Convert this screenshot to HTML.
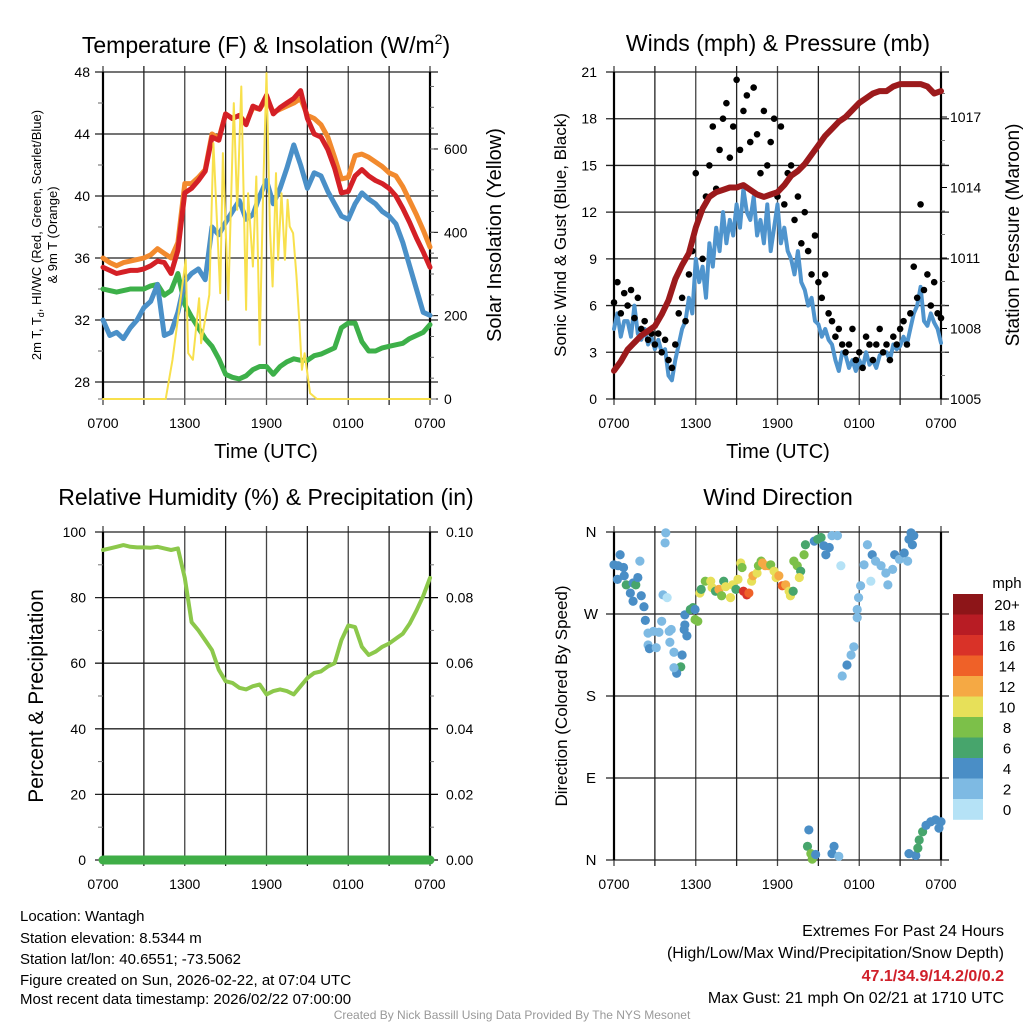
<!DOCTYPE html>
<html><head><meta charset="utf-8"><style>
html,body{margin:0;padding:0;background:#fff;}
svg{display:block;font-family:"Liberation Sans",Arial,sans-serif;}
</style></head><body>
<svg id="fig" width="1024" height="1024" viewBox="0 0 1024 1024" xmlns="http://www.w3.org/2000/svg">
<rect width="1024" height="1024" fill="#fff"/>
<text x="266" y="53" font-size="23" text-anchor="middle">Temperature (F) &amp; Insolation (W/m<tspan font-size="14" dy="-9">2</tspan><tspan dy="9">)</tspan></text>
<text x="778" y="51" font-size="23" text-anchor="middle">Winds (mph) &amp; Pressure (mb)</text>
<text x="266" y="505" font-size="23" text-anchor="middle">Relative Humidity (%) &amp; Precipitation (in)</text>
<text x="778" y="505" font-size="23" text-anchor="middle">Wind Direction</text>
<text transform="translate(41,235) rotate(-90)" font-size="13" text-anchor="middle">2m T, T<tspan font-size="9" dy="3">d</tspan><tspan dy="-3">, HI/WC (Red, Green, Scarlet/Blue)</tspan></text>
<text transform="translate(57,235) rotate(-90)" font-size="13" text-anchor="middle">&amp; 9m T (Orange)</text>
<text transform="translate(501,235) rotate(-90)" font-size="20" text-anchor="middle">Solar Insolation (Yellow)</text>
<text x="266" y="458" font-size="20" text-anchor="middle">Time (UTC)</text>
<text x="778" y="458" font-size="20" text-anchor="middle">Time (UTC)</text>
<text transform="translate(566,235) rotate(-90)" font-size="17" text-anchor="middle">Sonic Wind &amp; Gust (Blue, Black)</text>
<text transform="translate(1019,235) rotate(-90)" font-size="19" text-anchor="middle">Station Pressure (Maroon)</text>
<text transform="translate(43,696) rotate(-90)" font-size="21" text-anchor="middle">Percent &amp; Precipitation</text>
<text transform="translate(567,696) rotate(-90)" font-size="17" text-anchor="middle">Direction (Colored By Speed)</text>
<g font-size="15">
<text x="20" y="921">Location: Wantagh</text>
<text x="20" y="943">Station elevation: 8.5344 m</text>
<text x="20" y="964">Station lat/lon: 40.6551; -73.5062</text>
<text x="20" y="985">Figure created on Sun, 2026-02-22, at 07:04 UTC</text>
<text x="20" y="1004">Most recent data timestamp: 2026/02/22 07:00:00</text>
</g>
<g font-size="16" text-anchor="end">
<text x="1004" y="936">Extremes For Past 24 Hours</text>
<text x="1004" y="958">(High/Low/Max Wind/Precipitation/Snow Depth)</text>
<text x="1004" y="981" fill="#d0202a" font-weight="bold">47.1/34.9/14.2/0/0.2</text>
<text x="1004" y="1003">Max Gust: 21 mph On 02/21 at 1710 UTC</text>
</g>
<text x="512" y="1019" font-size="12" fill="#999" text-anchor="middle">Created By Nick Bassill Using Data Provided By The NYS Mesonet</text>
<g id="layer"></g>
</svg>
<script>
const timeTicks = ["0700","1300","1900","0100","0700"];
const tempRed = [35.4,35.2,35.0,35.1,35.2,35.2,35.3,35.5,35.8,35.7,35.0,36.5,40.2,40.5,41.0,41.6,43.8,43.6,45.3,45.0,45.2,44.6,45.8,45.6,46.5,45.3,45.7,46.0,46.3,46.8,45.0,44.0,43.8,43.0,41.8,40.2,40.3,41.3,41.7,41.3,41.0,40.8,40.5,40.0,39.2,38.3,37.3,36.4,35.4];
const tempOrange = [36.0,35.7,35.5,35.7,35.8,35.9,36.0,36.2,36.6,36.3,36.0,37.0,40.8,40.8,41.2,41.7,44.0,43.7,45.3,45.0,45.2,44.7,45.7,45.6,46.3,45.4,45.6,45.8,46.0,46.3,45.2,45.0,44.6,43.8,42.5,41.1,41.2,42.6,42.7,42.5,42.2,41.9,41.5,41.3,40.6,39.7,38.8,37.8,36.7];
const dewBlue = [32.0,31.0,31.2,30.8,31.5,32.0,32.8,33.2,34.3,31.0,31.2,32.5,34.5,35.0,35.3,34.6,38.0,37.5,38.3,39.0,39.7,38.5,38.8,40.0,41.0,39.5,40.5,41.8,43.3,42.0,40.5,41.5,41.3,40.3,39.5,38.7,38.5,39.5,40.2,39.8,39.5,39.0,38.7,38.2,37.0,35.5,34.0,32.5,32.3];
const hiwcGreen = [34.0,33.9,33.8,33.9,34.0,34.0,34.0,34.2,34.3,33.6,33.9,35.0,33.0,32.2,31.5,30.8,30.3,29.5,28.5,28.3,28.2,28.4,28.8,29.0,29.0,28.5,29.0,29.3,29.5,29.4,29.4,29.7,29.8,30.0,30.2,31.5,31.8,31.8,30.6,30.0,30.0,30.2,30.3,30.4,30.5,30.8,31.0,31.2,31.7];
const insolHours = [0,4.6,5.1,5.75,6.07,6.25,6.6,7.05,7.2,7.8,8.1,8.6,8.8,9.2,9.6,9.85,10.15,10.5,10.65,11.0,11.25,11.5,11.75,12.0,12.25,12.45,12.7,12.85,13.1,13.35,13.55,13.7,13.95,14.2,14.4,14.6,14.8,15.2,15.7,24];
const insolValues = [0,0,94,254,334,110,94,242,134,250,614,254,590,238,710,454,750,214,494,318,534,130,494,782,414,270,542,334,494,334,478,414,398,294,190,70,110,14,0,0];
const windSpeed = [4.5,5.5,4.0,5.0, 5.0,4.0,6.0,4.2, 3.8,4.5,3.5,4.0, 3.2,3.8,3.0,3.2, 1.5,1.2,2.5,3.5, 4.5,5.0,6.5,5.5, 9.0,7.5,8.5,6.5, 10.0,8.5,11.0,9.5, 12.0,10.0,11.5,10.5, 12.5,11.0,13.5,12.0, 11.5,13.0,10.5,11.5, 10.0,12.5,9.5,11.0, 12.5,10.0,11.0,9.5, 9.0,8.0,9.5,7.5, 7.0,6.0,6.5,5.0, 4.8,4.0,4.5,3.8, 3.5,2.5,1.8,3.0, 2.8,2.0,2.5,1.8, 2.5,2.0,3.0,2.2, 2.5,2.0,2.8,3.0, 3.0,2.5,3.5,3.2, 3.4,4.0,3.5,4.5, 5.5,6.0,7.2,5.0, 4.7,5.5,4.9,4.5, 3.6];
const windGust = [6.2,7.5,5.5,6.8, 6.0,7.0,5.2,6.5, 4.5,5.0,3.8,4.2, 3.5,4.2,3.0,3.8, 2.5,2.0,3.5,5.5, 6.5,5.0,8.0,9.5, 14.5,12.0,9.0,13.0, 15.0,17.5,13.5,16.0, 18.0,19.0,15.5,17.5, 20.5,16.0,18.5,19.5, 16.5,20.0,17.0,14.5, 18.5,15.0,16.5,18.0, 13.0,17.5,12.5,14.5, 15.0,11.5,13.0,10.0, 12.0,9.5,8.0,10.5, 7.5,6.5,8.0,5.5, 5.0,4.0,4.5,3.5, 3.0,3.5,4.5,2.5, 3.0,2.0,4.0,3.5, 2.5,3.5,4.5,3.0, 3.5,2.5,4.0,3.5, 4.5,5.0,3.5,5.5, 8.5,6.5,12.5,7.0, 8.0,6.0,7.5,5.5, 5.2];
const pressure = [1006.2,1006.6,1007.1,1007.4,1007.7,1007.9,1008.1,1008.6,1009.2,1010.1,1010.7,1011.2,1012.3,1013.1,1013.6,1013.8,1013.9,1014.0,1014.0,1014.1,1013.9,1013.7,1013.6,1013.7,1013.8,1014.1,1014.5,1014.7,1015.0,1015.4,1015.8,1016.2,1016.5,1016.8,1017.0,1017.3,1017.6,1017.8,1018.0,1018.1,1018.1,1018.3,1018.4,1018.4,1018.4,1018.4,1018.3,1018.0,1018.1];
const relHum = [94.5,95.0,95.5,96.0,95.5,95.3,95.3,95.2,95.5,95.0,94.5,95.0,86,72.5,70,67,64,58,54.5,54,52.5,52,53,53.5,50.5,51.5,52,51.5,50.5,53,55.5,57,57.5,59,60,67,71.5,71,65,62.5,63.5,65,66,67.5,69,72,76,80.5,86];
const precip = [0,0,0,0,0,0,0,0,0,0,0,0,0,0,0,0,0,0,0,0,0,0,0,0,0];
const dirHours = [0,0.45,0.3,0.7,0.25,0.75,0.9,1.4,1.6,1.75,1.9,1.2,1.4,2.0,2.2,2.3,2.5,2.9,2.5,2.6,3.1,3.3,3.5,3.6,3.8,3.75,3.9,4.05,4.2,4.1,4.4,5.0,4.9,4.6,4.4,5.15,5.35,5.2,5.2,5.6,5.8,5.95,5.95,6.15,6.3,6.4,6.7,7.1,7.2,7.45,7.7,7.9,8.05,8.2,8.55,8.7,8.95,9.1,9.3,9.4,9.5,9.75,9.9,10.1,10.2,10.5,10.6,10.8,10.9,11.1,11.35,11.5,11.75,11.9,12.1,12.35,12.6,12.85,12.95,13.15,13.2,13.45,13.7,13.6,13.95,14.05,14.7,14.95,15.2,15.4,15.55,15.8,16.0,16.4,16.65,14.3,14.2,14.45,14.55,14.8,16.15,16.0,16.5,16.75,17.1,17.4,17.6,17.85,17.85,17.95,18.1,18.35,18.6,18.85,18.95,19.2,19.6,19.95,20.1,20.45,20.6,20.95,21.3,21.55,21.65,21.8,22.0,21.9,21.65,22.15,22.3,22.4,22.65,22.9,23.25,23.6,23.85,24.0];
const dirDegrees = [324,335,323,321,308,312,302,304,302,310,328,293,284,290,278,263,249,251,236,232,233,250,262,291,359,348,288,251,253,239,228,225,212,205,211,253,246,258,269,275,277,275,264,262,293,297,306,306,299,295,297,290,306,300,288,302,297,308,326,321,295,291,293,306,312,315,323,328,326,323,323,324,317,310,312,301,302,295,290,295,328,323,317,310,335,346,350,352,354,345,335,343,356,356,323,33,15,7,1,6,15,7,4,202,214,225,234,266,275,288,301,324,346,306,335,328,323,315,302,319,335,330,337,328,352,359,356,346,7,5,13,22,31,38,42,44,35,42];
const dirSpeed = [4,4,4,4,4,4,6,4,6,4,2,4,4,4,4,4,2,2,2,4,2,2,2,2,2,2,0,2,2,2,2,4,6,4,2,4,4,4,4,6,6,4,8,8,10,6,8,10,10,6,12,8,6,10,10,10,6,10,10,8,16,16,14,10,12,10,8,8,12,12,12,8,10,10,12,14,12,10,10,6,8,8,6,10,8,6,4,6,6,4,4,4,2,2,0,4,6,8,8,4,4,4,2,2,4,2,2,2,2,2,2,2,2,0,4,2,2,2,2,2,4,2,4,2,4,4,4,4,4,4,6,6,6,4,4,4,4,4];
const speedColors = ["#b5e2f6","#7ebae3","#4a8ec6","#47a56c","#7cc049","#e7e059","#f5a944","#ef6128","#d93228","#b81c24","#8d1518"];
const speedLabels = ["0","2","4","6","8","10","12","14","16","18","20+"];

const NS="http://www.w3.org/2000/svg";
const layer=document.getElementById('layer');
function mk(tag,attrs,parent){const e=document.createElementNS(NS,tag);for(const k in attrs)e.setAttribute(k,attrs[k]);(parent||layer).appendChild(e);return e;}
function panel(x0,y0,w,h){return {x:t=>x0+t/24*w,x0:x0,y0:y0,w:w,h:h};}
const P1=panel(103,72,327,327), P2=panel(614,72,327,327), P3=panel(103,532,327,328), P4=panel(614,532,327,328);

function grid(P,hy,name){
  const g=mk('g',{});
  
  
  for(let i=0;i<=8;i++){const x=P.x(i*3);const l=mk('line',{x1:x,x2:x,y1:P.y0-6,y2:P.y0+P.h+6,stroke:(i%2?'#222':'#444'),'stroke-width':1.3},g);
    
    }
  hy.forEach(y=>{const l=mk('line',{x1:P.x0-8,x2:P.x0+P.w+8,y1:y,y2:y,stroke:'#222','stroke-width':1.3},g);
    
    });
  [P.x0,P.x0+P.w].forEach(x=>{const l=mk('line',{x1:x,x2:x,y1:P.y0,y2:P.y0+P.h,stroke:'#000','stroke-width':2.2},g);
    
    });
  timeTicks.forEach((t,i)=>{const tx=mk('text',{x:P.x(i*6),y:P.y0+P.h+29,'font-size':14,'text-anchor':'middle'},g);tx.textContent=t;
    
    });
}
function label(x,y,txt,anchor,size,name){const t=mk('text',{x:x,y:y+5,'font-size':size||14,'text-anchor':anchor});t.textContent=txt;
  
  return t;}
function path(pts,attrs,name){let d='';pts.forEach((p,i)=>{d+=(i?'L':'M')+p[0].toFixed(1)+','+p[1].toFixed(1);});const e=mk('path',Object.assign({d:d,fill:'none','stroke-linejoin':'round','stroke-linecap':'round'},attrs));
  
  return e;}

const ty=t=>72+(48-t)*15.5, iy=w=>399-w*0.4167;
const tTicks=[28,32,36,40,44,48], iTicks=[0,200,400,600];
grid(P1,tTicks.map(ty),'temp');
tTicks.forEach(t=>label(90,ty(t),String(t),'end',14,'temp-y-tick-label'));
iTicks.forEach(w=>{label(444,iy(w),String(w),'start',14,'insolation-y-tick-label');mk('line',{x1:430,x2:438,y1:iy(w),y2:iy(w),stroke:'#000'});});
for(let w=50;w<780;w+=50){mk('line',{x1:430,x2:434,y1:iy(w),y2:iy(w),stroke:'#666'});}
for(let t=30;t<48;t+=4){mk('line',{x1:103,x2:98,y1:ty(t),y2:ty(t),stroke:'#666'});}
mk('line',{x1:98,x2:436,y1:399,y2:399,stroke:'#666'});
path(hiwcGreen.map((v,i)=>[P1.x(i*0.5),ty(v)]),{stroke:'#3db049','stroke-width':5},'hiwc-green-line');
path(dewBlue.map((v,i)=>[P1.x(i*0.5),ty(v)]),{stroke:'#4a90c8','stroke-width':5},'dewpoint-blue-line');
path(tempOrange.map((v,i)=>[P1.x(i*0.5),ty(v)]),{stroke:'#f28a2e','stroke-width':5},'temp-9m-orange-line');
path(tempRed.map((v,i)=>[P1.x(i*0.5),ty(v)]),{stroke:'#d42026','stroke-width':5},'temp-2m-red-line');
path(insolValues.map((v,i)=>[P1.x(insolHours[i]),iy(v)]),{stroke:'#f8e04c','stroke-width':2},'insolation-yellow-line');

const wy=s=>399-s*15.571, py=p=>399-(p-1005)*23.5;
const wTicks=[0,3,6,9,12,15,18,21], pTicks=[1005,1008,1011,1014,1017];
grid(P2,wTicks.map(wy),'wind');
wTicks.forEach(s=>label(597,wy(s),String(s),'end',14,'wind-y-tick-label'));
pTicks.forEach(p=>{label(950,py(p),String(p),'start',14,'pressure-y-tick-label');mk('line',{x1:941,x2:947,y1:py(p),y2:py(p),stroke:'#000'});});
for(let p=1006;p<1019;p++){if((p-1005)%3)mk('line',{x1:941,x2:945,y1:py(p),y2:py(p),stroke:'#777'});}
path(windSpeed.map((v,i)=>[P2.x(i*0.25),wy(v)]),{stroke:'#4f94cd','stroke-width':4},'wind-speed-line');
windGust.forEach((v,i)=>{const c=mk('circle',{cx:P2.x(i*0.25),cy:wy(v),r:3.3,fill:'#000'});
  
  });
path(pressure.map((v,i)=>[P2.x(i*0.5),py(v)]),{stroke:'#9c1a1c','stroke-width':6},'pressure-line');

const ry=v=>860-v*3.28, qy=v=>860-v*3280;
const rTicks=[0,20,40,60,80,100], qTicks=[0,0.02,0.04,0.06,0.08,0.10];
grid(P3,rTicks.map(ry),'rh');
rTicks.forEach(v=>label(86,ry(v),String(v),'end',14,'rh-y-tick-label'));
qTicks.forEach(v=>{label(446,qy(v),v.toFixed(2),'start',14,'precip-y-tick-label');mk('line',{x1:430,x2:438,y1:qy(v),y2:qy(v),stroke:'#000'});});
for(let v=10;v<100;v+=20){mk('line',{x1:430,x2:434,y1:ry(v),y2:ry(v),stroke:'#777'});mk('line',{x1:103,x2:98,y1:ry(v),y2:ry(v),stroke:'#777'});}
path(relHum.map((v,i)=>[P3.x(i*0.5),ry(v)]),{stroke:'#8cc84b','stroke-width':4},'rh-line');
path(precip.map((v,i)=>[P3.x(i),qy(v)]),{stroke:'#3fae47','stroke-width':9},'precip-line');

const dy=d=>860-d/360*328;
const dTicks=[[0,'N'],[90,'E'],[180,'S'],[270,'W'],[360,'N']];
grid(P4,dTicks.map(d=>dy(d[0])),'direction');
dTicks.forEach(d=>label(591,dy(d[0]),d[1],'middle',15,'direction-tick-label'));
dirHours.forEach((h,i)=>{const c=mk('circle',{cx:P4.x(h),cy:dy(dirDegrees[i]),r:4.6,fill:speedColors[Math.min(10,Math.floor(dirSpeed[i]/2))]});
  
  });
const lg=mk('g',{});


const lt=mk('text',{x:1007,y:588,'font-size':15,'text-anchor':'middle'},lg);lt.textContent='mph';


speedLabels.forEach((s,i)=>{const k=10-i;const y=594+i*20.5;
  const r=mk('rect',{x:953,y:y,width:30,height:20.8,fill:speedColors[k]},lg);
  
  
  const t=mk('text',{x:1007,y:y+16,'font-size':15,'text-anchor':'middle'},lg);t.textContent=speedLabels[k];
  
  });
</script>
</body></html>
